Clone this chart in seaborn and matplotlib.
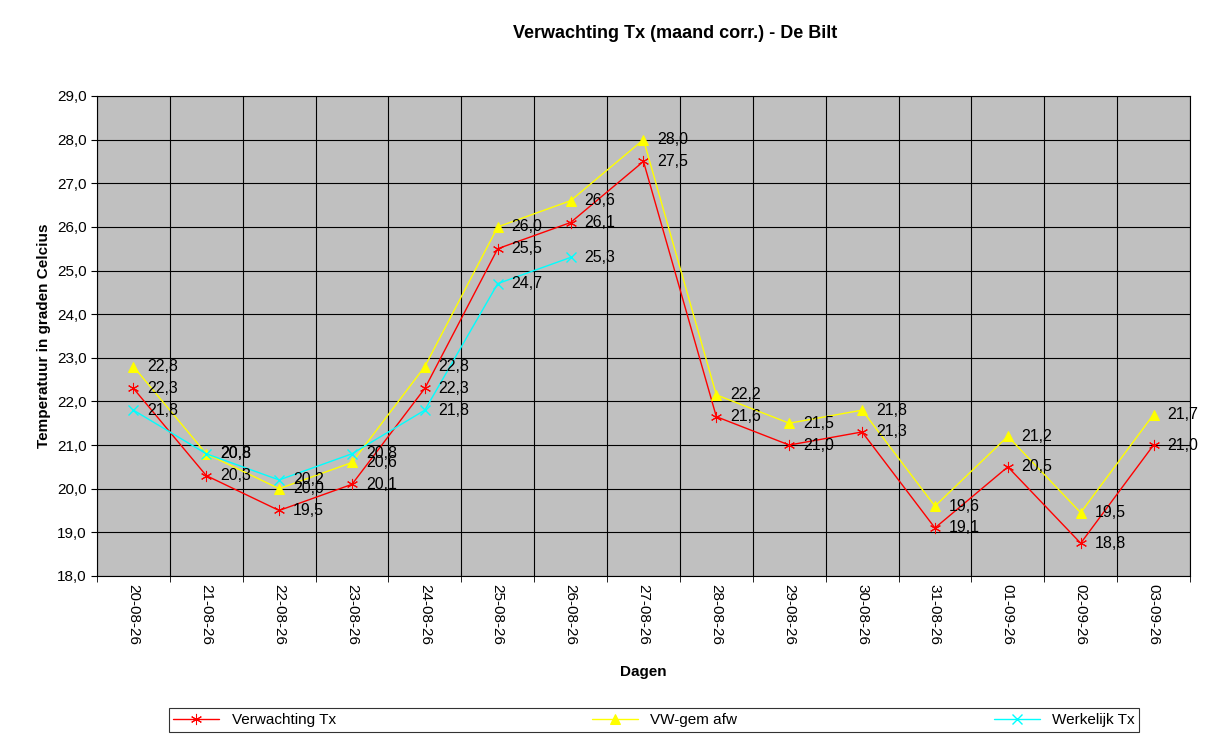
import matplotlib
matplotlib.use("Agg")
import matplotlib.pyplot as plt
import seaborn as sns
import numpy as np
import pandas as pd
from matplotlib.ticker import FuncFormatter, MultipleLocator, FixedLocator

dates = ["20-08-26","21-08-26","22-08-26","23-08-26","24-08-26","25-08-26","26-08-26",
         "27-08-26","28-08-26","29-08-26","30-08-26","31-08-26","01-09-26","02-09-26","03-09-26"]
verwachting = [22.3,20.3,19.5,20.1,22.3,25.5,26.1,27.5,21.65,21.0,21.3,19.1,20.5,18.75,21.0]
verwachting_lbl = [22.3,20.3,19.5,20.1,22.3,25.5,26.1,27.5,21.6,21.0,21.3,19.1,20.5,18.8,21.0]
vwgem = [22.8,20.8,20.0,20.6,22.8,26.0,26.6,28.0,22.15,21.5,21.8,19.6,21.2,19.45,21.7]
vwgem_lbl = [22.8,20.8,20.0,20.6,22.8,26.0,26.6,28.0,22.2,21.5,21.8,19.6,21.2,19.5,21.7]
werkelijk = [21.8,20.8,20.2,20.8,21.8,24.7,25.3]

sns.set_style("white")
plt.rcParams['font.family'] = ['Liberation Sans', 'DejaVu Sans']
plt.rcParams['text.color'] = 'black'
plt.rcParams['axes.labelcolor'] = 'black'
plt.rcParams['xtick.color'] = 'black'
plt.rcParams['ytick.color'] = 'black'
fig = plt.figure(figsize=(12.21, 7.47), dpi=100)
ax = fig.add_axes([0.0794, 0.229, 0.8952, 0.6425])
ax.set_facecolor("#C0C0C0")

x = np.arange(len(dates))
sns.lineplot(x=x, y=verwachting, ax=ax, color="red", marker=(6, 2, 0), markersize=8,
             markeredgecolor="red", lw=1, label="Verwachting Tx")
sns.lineplot(x=x, y=vwgem, ax=ax, color="yellow", marker="^", markersize=7,
             markeredgecolor="yellow", lw=1, label="VW-gem afw")
sns.lineplot(x=x[:len(werkelijk)], y=werkelijk, ax=ax, color="#00FFFF", marker="x", markersize=7,
             markeredgecolor="#00FFFF", mew=1, lw=1, label="Werkelijk Tx")

fmt = lambda v: f"{v:.1f}".replace(".", ",")
for xs, ys, ls in [(x, verwachting, verwachting_lbl), (x, vwgem, vwgem_lbl),
                   (x[:len(werkelijk)], werkelijk, werkelijk)]:
    for xi, yi, li in zip(xs, ys, ls):
        ax.text(xi + 0.19, yi, fmt(li), fontsize=11.5, va="center", ha="left", color="black")

ax.set_xlim(-0.5, len(dates) - 0.5)
ax.set_ylim(18, 29)
ax.yaxis.set_major_locator(MultipleLocator(1))
ax.yaxis.set_major_formatter(FuncFormatter(lambda v, p: fmt(v)))
ax.set_xticks(x)
ax.set_xticklabels(dates, rotation=270, fontsize=11)
ax.xaxis.set_minor_locator(FixedLocator(np.arange(-0.5, len(dates), 1)))
ax.tick_params(axis="y", labelsize=11, length=4, left=True)
ax.tick_params(axis="x", which="major", length=0, pad=6)
ax.tick_params(axis="x", which="minor", length=4, bottom=True)
ax.grid(True, axis="y", which="major", color="black", lw=0.8)
ax.grid(True, axis="x", which="minor", color="black", lw=0.8)
for s in ax.spines.values():
    s.set_color("black"); s.set_linewidth(0.8)

ax.set_xlabel("Dagen", fontsize=11, fontweight="bold", labelpad=14)
ax.set_ylabel("Temperatuur in graden Celcius", fontsize=11, fontweight="bold")
fig.text(0.553, 0.955, "Verwachting Tx (maand corr.) - De Bilt", ha="center", va="center",
         fontsize=13, fontweight="bold")

leg = ax.legend(loc="center", bbox_to_anchor=(0.0658, -0.33, 0.8875, 0.06), bbox_transform=ax.transAxes,
                mode="expand", ncol=3, frameon=True, fancybox=False, fontsize=11,
                borderaxespad=0, handlelength=3, borderpad=0.3)
leg.get_frame().set_edgecolor("black")
leg.get_frame().set_linewidth(0.8)

fig.savefig("out.png", dpi=100, facecolor="white")
